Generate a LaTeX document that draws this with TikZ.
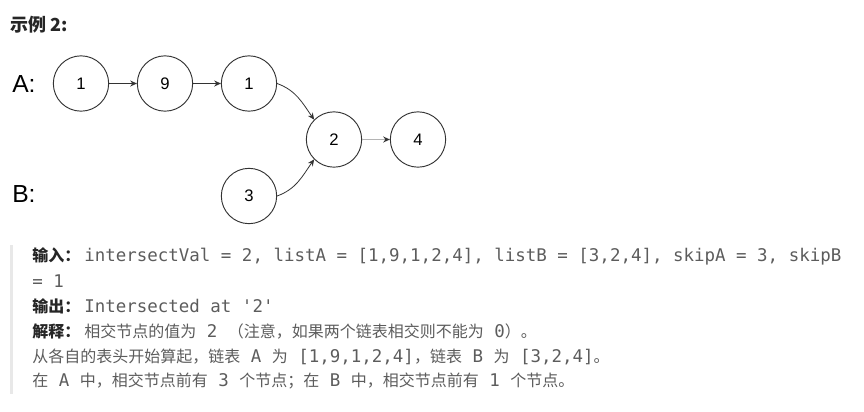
\documentclass[tikz,border=0pt]{standalone}
\usepackage{fontspec}
\setmainfont{Liberation Sans}
\newfontfamily\cjk{Noto Sans CJK SC}
\newfontfamily\code{DejaVu Sans Mono}
\usepackage{tikz}
\usetikzlibrary{arrows.meta, positioning}

\definecolor{txtgray}{HTML}{5C5C5C}
\definecolor{lblgray}{HTML}{262626}
\definecolor{barline}{HTML}{E8E8E8}
\definecolor{edgegray}{HTML}{333333}
\definecolor{linkgray}{HTML}{B4B4B4}

\newcommand{\cd}[1]{{\code\fontsize{13.1}{15}\selectfont #1}}
\newcommand{\lbl}[1]{{\bfseries\color{lblgray}#1}\hspace{3pt}}

\begin{document}
\begin{tikzpicture}[
    x=0.75pt, y=0.75pt,
    lnode/.style={circle, draw=edgegray, line width=0.7pt,
                  minimum size=41.5pt, inner sep=0pt,
                  font=\fontsize{12.5}{14}\selectfont},
    nxt/.style={-{Stealth[length=5pt,width=4.5pt,color=edgegray]}, draw=edgegray, line width=0.6pt},
    listlbl/.style={anchor=west, inner sep=0pt, font=\fontsize{18.5}{20}\selectfont},
    row/.style={anchor=base west, inner sep=0pt, text=txtgray,
                font=\cjk\fontsize{12}{14}\selectfont},
  ]
  \useasboundingbox (0,0) rectangle (864,-411);

  % heading
  \node[anchor=west, inner sep=0pt, text=lblgray,
        font=\cjk\bfseries\fontsize{13.5}{15}\selectfont] (title) at (10,-25) {示例 2:};

  % lists
  \node[listlbl] (labA) at (12,-84) {A:};
  \node[listlbl] (labB) at (12,-194) {B:};

  \node[lnode] (a1)  at (81,-83.5)   {1};
  \node[lnode] (a9)  at (165,-83.5)  {9};
  \node[lnode] (a1b) at (249,-83.5)  {1};
  \node[lnode] (c2)  at (334,-139.5) {2};
  \node[lnode] (c4)  at (418,-139.5) {4};
  \node[lnode] (b3)  at (249,-196)   {3};

  \draw[nxt] (a1) -- (a9);
  \draw[nxt] (a9) -- (a1b);
  \draw[nxt] (a1b.east) to[out=-20, in=125] (c2.north west);
  \draw[nxt] (b3.east) to[out=20, in=-125] (c2.south west);
  \draw[nxt, draw=linkgray, line width=0.9pt] (c2) -- (c4);

  % explanation
  \fill[barline] (9.5,-245) rectangle (12.5,-394);
  \node[row] (r1) at (32,-261) {\lbl{输入：}\cd{intersectVal = 2, listA = [1,9,1,2,4], listB = [3,2,4], skipA = 3, skipB}};
  \node[row] (r2) at (32,-287) {\cd{= 1}};
  \node[row] (r3) at (32,-312) {\lbl{输出：}\cd{Intersected at '2'}};
  \node[row] (r4) at (32,-337) {\lbl{解释：}相交节点的值为\cd{ 2 }（注意，如果两个链表相交则不能为\cd{ 0}）。};
  \node[row] (r5) at (32,-362) {从各自的表头开始算起，链表\cd{ A }为\cd{ [1,9,1,2,4]}，链表\cd{ B }为\cd{ [3,2,4]}。};
  \node[row] (r6) at (32,-386) {在\cd{ A }中，相交节点前有\cd{ 3 }个节点；在\cd{ B }中，相交节点前有\cd{ 1 }个节点。};
\end{tikzpicture}
\end{document}
